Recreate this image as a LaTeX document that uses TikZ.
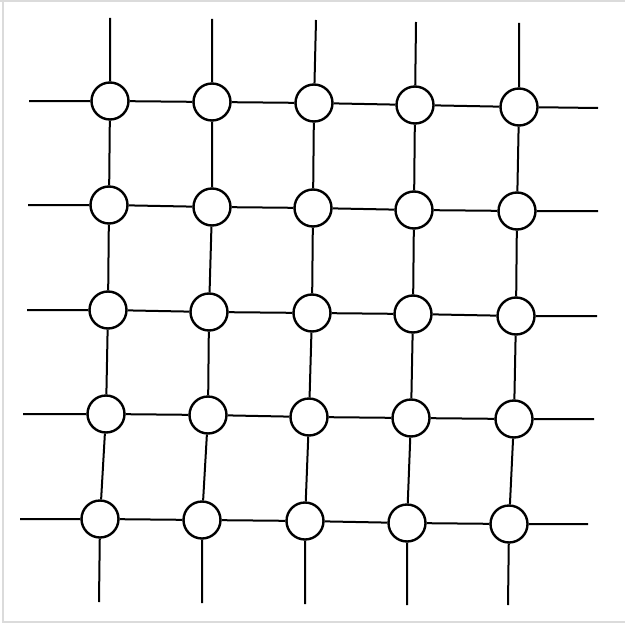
\documentclass[tikz,border=0pt]{standalone}
\begin{document}
\begin{tikzpicture}[x=1pt,y=-1pt,
  junction/.style={circle,draw=black,fill=white,line width=2.4pt,minimum size=37pt,inner sep=0pt},
  wire/.style={draw=black,line width=2pt},
  frameline/.style={draw=black!14,line width=2pt}]
\useasboundingbox (0,0) rectangle (625,626);
\fill[white] (0,0) rectangle (625,626);
\draw[frameline] (0,1) -- (625,1);
\draw[frameline] (3,0) -- (3,622) -- (625,622);
% nodes
\node[junction] (n11) at (110,101) {};
\node[junction] (n12) at (212,102) {};
\node[junction] (n13) at (314,103) {};
\node[junction] (n14) at (415,105) {};
\node[junction] (n15) at (519,107) {};
\node[junction] (n21) at (109,205) {};
\node[junction] (n22) at (212,207) {};
\node[junction] (n23) at (313,208) {};
\node[junction] (n24) at (414,210) {};
\node[junction] (n25) at (517,211) {};
\node[junction] (n31) at (108,310) {};
\node[junction] (n32) at (209,312) {};
\node[junction] (n33) at (312,313) {};
\node[junction] (n34) at (413,314) {};
\node[junction] (n35) at (516,316) {};
\node[junction] (n41) at (106,414) {};
\node[junction] (n42) at (208,415) {};
\node[junction] (n43) at (309,417) {};
\node[junction] (n44) at (411,418) {};
\node[junction] (n45) at (514,419) {};
\node[junction] (n51) at (100,519) {};
\node[junction] (n52) at (202,520) {};
\node[junction] (n53) at (305,521) {};
\node[junction] (n54) at (407,523) {};
\node[junction] (n55) at (509,524) {};
% free ends
\coordinate (L1) at (29,101);  \coordinate (R1) at (598,108);
\coordinate (L2) at (28,205);  \coordinate (R2) at (598,211);
\coordinate (L3) at (27,310);  \coordinate (R3) at (597,316);
\coordinate (L4) at (23,414);  \coordinate (R4) at (594,419);
\coordinate (L5) at (20,519);  \coordinate (R5) at (588,524);
\coordinate (T1) at (110,18);  \coordinate (B1) at (99,602);
\coordinate (T2) at (212,19);  \coordinate (B2) at (202,603);
\coordinate (T3) at (316,20);  \coordinate (B3) at (305,604);
\coordinate (T4) at (416,22);  \coordinate (B4) at (407,605);
\coordinate (T5) at (519,23);  \coordinate (B5) at (508,605);
% horizontal wires
\foreach \r in {1,...,5}{
  \draw[wire] (L\r) -- (n\r1) -- (n\r2) -- (n\r3) -- (n\r4) -- (n\r5) -- (R\r);
}
% vertical wires
\foreach \c in {1,...,5}{
  \draw[wire] (T\c) -- (n1\c) -- (n2\c) -- (n3\c) -- (n4\c) -- (n5\c) -- (B\c);
}
\end{tikzpicture}
\end{document}
